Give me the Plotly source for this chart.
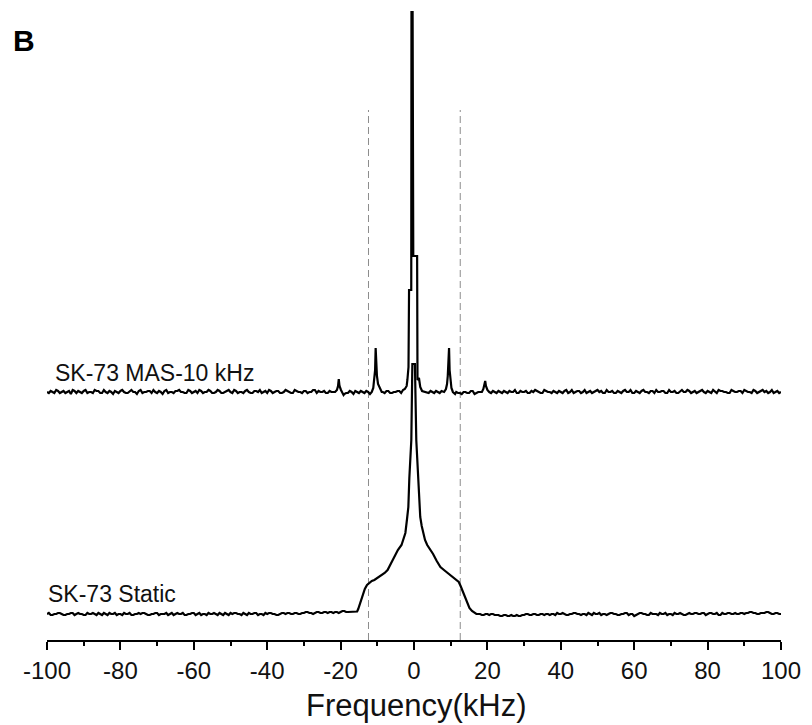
import plotly.graph_objects as go

# ---------------- data (intensities in arbitrary units, baseline = 0) ----------------
FREQ_GRID = list(range(-100, 101))              # kHz, integer samples of the baseline
HALF_GRID = [f + 0.5 for f in range(-100, 100)]  # kHz, half-step samples of the baseline

TICK_VALUES = [-100, -80, -60, -40, -20, 0, 20, 40, 60, 80, 100]
TICK_LABELS = ["-100", "-80", "-60", "-40", "-20", "0", "20", "40", "60", "80", "100"]

MAS_BASE = [
    0, 1, -1, 1, 0, -1, 1, 2, -1, 0, 1, -1, 0, 2, 1, -1, 0, 1, -2, 0,
    1, 0, -1, 2, 0, 1, -1, 0, 1, 2, -1, 0, 1, -1, 0, 1, 2, 0, -1, 1,
    0, -1, 1, 0, 2, -1, 0, 1, -1, 1, 0, 2, -1, 0, 1, 0, -1, 1, 2, 0,
    -1, 1, 0, 1, -1, 2, 0, -1, 1, 0, 1, -1, 0, 2, 1, 0, -1, 1, 0, -1,
    0, -2, -1, 0, 1, -1, 0, 1, -1, 0, 0, 0, -1, 1, -1, 0, 1, 2, 0, 0,
    0, 0, 0, 1, -1, 0, 1, -1, 0, 0, 0, -2, -1, -2, 0, -1, 1, -1, 0, 0,
    0, -1, 0, 1, -1, 0, 1, 0, -1, 1, 0, -1, 1, 2, 0, -1, 1, 0, 1, -1,
    0, 1, -1, 2, 0, 1, 0, -1, 1, 0, 2, 1, -1, 0, 1, -1, 0, 1, 0, 2,
    -1, 0, 1, 0, -1, 1, 2, 0, 1, -1, 0, 1, -1, 2, 0, 1, 0, -1, 1, 0,
    1, -1, 0, 2, 1, 0, -1, 1, 0, 1, 2, 0, -1, 1, 0, 2, 1, 0, -1, 1, 0,
]
MAS_BASE_HALF = [
    -1, 0, 2, -1, 1, 0, -2, 1, 1, -1, 2, 0, -1, 1, -1, 2, -1, 0, 1, -1,
    2, -1, 1, 0, -2, 2, 0, 1, -1, 0, 1, -2, 2, 0, -1, 1, 0, -1, 2, -1,
    1, 2, -1, 0, 1, -1, 2, -1, 0, 2, -1, 1, 0, -1, 2, -1, 1, 0, -1, 1,
    2, -1, 1, -1, 0, 1, -1, 2, 0, -1, 1, 0, 2, -1, 0, 1, -1, 0, 1, 0,
    0, -1, 1, -2, 0, 1, -1, 0, -1, 0, 0, 0, 1, -1, 0, 1, -1, 1, 0, 0,
    0, 0, 0, -1, 1, -1, 0, 1, -1, 0, 0, 0, -1, 0, -1, 1, -2, 0, 1, 0,
    0, 1, -1, 0, 1, -1, 0, 2, -1, 0, 1, -1, 0, 1, -1, 2, 0, -1, 0, 1,
    -1, 2, 0, -1, 1, -1, 2, 0, -1, 1, 0, -1, 2, 0, -1, 1, -1, 2, 0, -1,
    1, -1, 2, 0, 1, -1, 0, 1, -1, 2, 0, -1, 1, 0, 2, -1, 1, 0, 2, -1,
    0, 2, -1, 1, 0, -1, 2, 0, 1, -1, 1, 0, 2, -1, 1, 0, -1, 2, 0, -1,
]

STATIC_BASE = [
    0, -1, 0, 1, 0, -1, 0, 1, 0, 0, -1, 1, 0, 0, 1, -1, 0, 1, 0, -1,
    0, 1, 0, -1, 0, 1, 1, 0, -1, 0, 1, 0, 0, -1, 1, 0, 0, 1, -1, 0,
    1, 0, -1, 0, 1, 0, 0, 1, -1, 0, 1, 1, 0, -1, 0, 1, 0, 1, 0, -1,
    0, 1, 0, -1, 1, 0, 1, 0, 1, 0, 1, 2, 1, 1, 2, 1, 2, 2, 1, 2,
    2, 3, 2, 2, 0, 0, 0, 0, 0, 0, 0, 0, 0, 0, 0, 0, 0, 0, 0, 0,
    0, 0, 0, 0, 0, 0, 0, 0, 0, 0, 0, 0, 0, 0, 0, 0, 0, 0, 0, -1,
    0, 0, -1, -1, -2, -1, -2, -2, -1, -2, -1, 0, -1, 0, -1, 0, 0, -1, 0, 1,
    0, 0, -1, 0, 1, 0, 0, -1, 0, 1, 0, -1, 0, 0, 1, 0, -1, 0, 1, 0,
    -2, 0, 1, 0, -1, 0, 0, 1, 0, -1, 0, 1, 0, 0, -1, 1, 0, 1, 0, 1,
    0, 1, 0, -1, 1, 0, 1, 0, 0, 1, 0, 1, 2, 1, 0, 1, 2, 1, 0, 1, 0,
]
STATIC_BASE_HALF = [
    1, -1, 0, 1, -1, 0, 1, -1, 1, 0, -1, 0, 1, -1, 0, 1, -1, 0, 1, 0,
    -1, 0, 1, -1, 0, 0, 1, -1, 0, 1, -1, 0, 1, 0, -1, 1, 0, -1, 0, 1,
    -1, 1, 0, -1, 0, 1, -1, 0, 1, -1, 0, 1, 0, 1, -1, 0, 1, -1, 0, 1,
    1, 0, -1, 0, 1, 1, 0, 1, 0, 1, 2, 1, 0, 2, 1, 2, 1, 2, 2, 1,
    3, 2, 2, 2, 0, 0, 0, 0, 0, 0, 0, 0, 0, 0, 0, 0, 0, 0, 0, 0,
    0, 0, 0, 0, 0, 0, 0, 0, 0, 0, 0, 0, 0, 0, 0, 0, 0, 0, -1, 0,
    -1, 0, -1, -2, -1, -2, -1, -2, -2, -1, 0, -1, 0, -1, 0, -1, 0, 0, -1, 0,
    1, -1, 0, 1, 0, -1, 0, 1, -1, 0, 1, 0, -1, 1, 0, -1, 0, 1, -1, 0,
    -1, 1, 0, -1, 1, 0, -1, 0, 1, 0, -1, 0, 1, -1, 0, 0, 1, 0, 1, -1,
    1, 0, 1, -1, 0, 1, 0, 1, 0, 1, 1, 2, 1, 0, 1, 1, 2, 0, 1, 0,
]

# MAS-10 kHz: central line and spinning sidebands (groups)
MAS_PEAK_FREQ = [
    [-21.5, -21.0, -20.7, -20.5, -20.3, -19.9, -19.2],
    [-12.0, -11.5, -11.1, -10.8, -10.6, -10.45, -10.3, -10.1, -9.8, -9.3, -8.8],
    [-2.5, -2.0, -1.8, -1.5, -1.35, -0.75, -0.62, -0.38, -0.2, 0.85, 0.95, 1.35, 1.7, 2.2, 3.0],
    [8.2, 8.7, 9.0, 9.2, 9.4, 9.55, 9.7, 9.9, 10.2, 10.6, 11.2],
    [18.5, 18.9, 19.2, 19.4, 19.6, 20.0, 20.5],
]
MAS_PEAK_INT = [
    [0, 2, 6, 13, 6, 2, -3],
    [-2, 0, 4, 12, 22, 44, 30, 16, 8, 3, 0],
    [3, 6, 12, 25, 102, 102, 700, 700, 136, 136, 12, 14, 5, 1, 0],
    [0, 3, 8, 16, 30, 44, 22, 12, 4, 0, -2],
    [0, 3, 7, 11, 6, 2, 0],
]

# Static: broad powder pattern with sharp central line
STATIC_PEAK_FREQ = [[
    -16.0, -15.5, -15.2, -14.6, -14.0, -13.4, -12.8, -12.2, -11.5, -10.8, -9.9, -9.0,
    -8.0, -7.2, -6.3, -5.3, -4.4, -3.4, -2.8, -2.35, -1.9, -1.54, -1.27, -0.9, -0.73,
    -0.45, 0.25, 0.62, 0.89, 1.16, 1.43, 1.7, 2.1, 2.5, 3.0, 3.6, 4.4, 5.2, 6.2, 7.2,
    8.5, 9.9, 11.0, 12.2, 12.7, 13.1, 13.8, 14.4, 15.1, 15.8, 16.5,
]]
STATIC_PEAK_INT = [[
    2, 2.5, 5, 12, 20, 25, 29, 31, 33, 34, 36, 38,
    41, 44, 50, 58, 64, 69, 75, 81, 95, 107, 136, 156, 174,
    250, 250, 174, 156, 131, 114, 97, 88, 81, 74, 69, 65, 60, 53, 47,
    43, 39, 35, 32, 28, 24, 17, 11, 6, 3, 1,
]]

LABELS = ["SK-73 MAS-10 kHz", "SK-73 Static"]
MARKER_FREQS = [-12.4, 12.6]  # dashed guide lines (kHz)
MAS_OFFSET = 222  # vertical stacking offset of the MAS spectrum


def build(base, base_half, peak_f, peak_i):
    windows = [(min(g), max(g)) for g in peak_f]
    samples = list(zip(FREQ_GRID, base)) + list(zip(HALF_GRID, base_half))
    pts = [(f, v) for f, v in samples
           if not any(lo <= f <= hi for lo, hi in windows)]
    for gf, gi in zip(peak_f, peak_i):
        pts.extend(zip(gf, gi))
    pts.sort(key=lambda p: p[0])
    return [p[0] for p in pts], [p[1] for p in pts]


mas_x, mas_y = build(MAS_BASE, MAS_BASE_HALF, MAS_PEAK_FREQ, MAS_PEAK_INT)
st_x, st_y = build(STATIC_BASE, STATIC_BASE_HALF, STATIC_PEAK_FREQ, STATIC_PEAK_INT)

FONT = "Liberation Sans, Arial, sans-serif"

fig = go.Figure()
fig.add_trace(go.Scatter(x=st_x, y=st_y, mode="lines",
                         line=dict(color="black", width=2.2), name=LABELS[1]))
fig.add_trace(go.Scatter(x=mas_x, y=[v + MAS_OFFSET for v in mas_y], mode="lines",
                         line=dict(color="black", width=2.2), name=LABELS[0]))

for xf in MARKER_FREQS:
    fig.add_shape(type="line", xref="x", yref="y", x0=xf, x1=xf, y0=-26, y1=504,
                  line=dict(color="#8c8c8c", width=1, dash="7px,4px"), layer="below")

fig.add_annotation(x=-98.5, y=MAS_OFFSET + 19.5, xref="x", yref="y", text=LABELS[0],
                   showarrow=False, xanchor="left", yanchor="middle",
                   font=dict(family=FONT, size=23, color="#111"))
fig.add_annotation(x=-0.002, y=(20 + 26) / 629, xref="paper", yref="paper", text=LABELS[1],
                   showarrow=False, xanchor="left", yanchor="middle",
                   font=dict(family=FONT, size=23, color="#111"))
fig.add_annotation(x=0.504, y=-0.1041, xref="paper", yref="paper", text="Frequency(kHz)",
                   showarrow=False, xanchor="center", yanchor="middle",
                   font=dict(family=FONT, size=31, color="#111"))
fig.add_annotation(x=-0.0496, y=0.953, xref="paper", yref="paper", text="<b>B</b>",
                   showarrow=False, xanchor="left", yanchor="middle",
                   font=dict(family=FONT, size=30, color="black"))

fig.update_layout(
    width=812, height=725,
    margin=dict(l=47, r=25, t=11, b=85),
    paper_bgcolor="white", plot_bgcolor="white",
    showlegend=False,
    xaxis=dict(range=[-100, 100], tickmode="array", tickvals=TICK_VALUES, ticktext=TICK_LABELS,
               showgrid=False, zeroline=False,
               showline=True, linecolor="black", linewidth=2,
               ticks="outside", ticklen=8, tickwidth=2, tickcolor="black",
               tickfont=dict(family=FONT, size=24, color="#111"),
               minor=dict(dtick=10, tick0=-100, ticks="outside", ticklen=4, tickwidth=2,
                          tickcolor="black", showgrid=False)),
    yaxis=dict(range=[-26, 603], visible=False, showgrid=False, zeroline=False),
)

fig.write_html("out.html")
